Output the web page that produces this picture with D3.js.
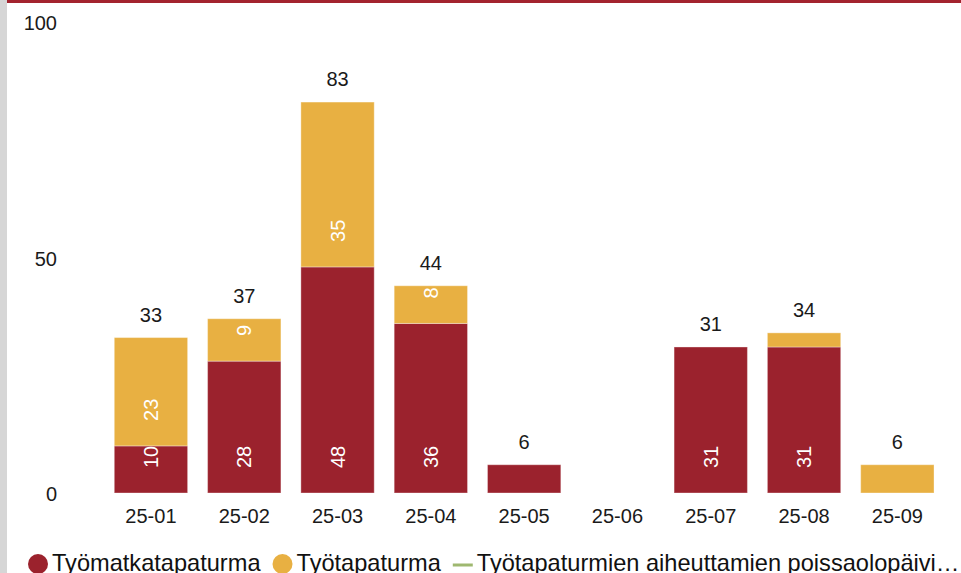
<!DOCTYPE html>
<html>
<head>
<meta charset="utf-8">
<script src="https://cdn.jsdelivr.net/npm/d3@7"></script>
<style>
  html, body { margin: 0; padding: 0; background: #fff; }
  svg { display: block; font-family: "Liberation Sans", Arial, sans-serif; }
</style>
</head>
<body>
<svg id="chart" width="961" height="573"></svg>
<script>
const categories = ["25-01", "25-02", "25-03", "25-04", "25-05", "25-06", "25-07", "25-08", "25-09"];
const tyomatka = [10, 28, 48, 36, 6, 0, 31, 31, 0];
const tyotapaturma = [23, 9, 35, 8, 0, 0, 0, 3, 6];
const seriesNames = ["Työmatkatapaturma", "Työtapaturma", "Työtapaturmien aiheuttamien poissaolopäivi…"];
const seriesColors = ["#9b222d", "#e8b042", "#9fb870"];
const yTicks = [0, 50, 100];

const svg = d3.select("#chart");
const W = 961, H = 573;

// frame decorations
svg.append("rect").attr("x", 0).attr("y", 0).attr("width", 7).attr("height", H).attr("fill", "#d6d6d6");
svg.append("rect").attr("x", 7).attr("y", 0).attr("width", W - 7).attr("height", 3).attr("fill", "#a3232e");

const x = d3.scaleBand().domain(categories).range([104.3, 944]).paddingInner(0.214).paddingOuter(0.107);
const y = d3.scaleLinear().domain([0, 100]).range([493, 22]);

const table = categories.map((c, i) => ({ cat: c, a: tyomatka[i], b: tyotapaturma[i] }));
const stack = d3.stack().keys(["a", "b"])(table);

// bars
stack.forEach((layer, li) => {
  svg.append("g").selectAll("rect").data(layer).join("rect")
    .attr("x", d => x(d.data.cat))
    .attr("width", x.bandwidth())
    .attr("y", d => y(d[1]))
    .attr("height", d => y(d[0]) - y(d[1]))
    .attr("fill", seriesColors[li])
    .attr("stroke", "rgba(255,255,255,0.35)")
    .attr("stroke-width", 1)
    .attr("display", d => d[1] - d[0] > 0 ? null : "none");
});

// inner labels (rotated)
stack.forEach((layer) => {
  svg.append("g").selectAll("text").data(layer.filter(d => d[1] - d[0] >= 7)).join("text")
    .attr("transform", d => `translate(${x(d.data.cat) + x.bandwidth() / 2},${y(d[0]) - 25}) rotate(-90)`)
    .attr("text-anchor", "start")
    .attr("dominant-baseline", "central")
    .attr("fill", "#fff")
    .attr("font-size", 20)
    .text(d => d[1] - d[0]);
});

// totals
svg.append("g").selectAll("text").data(table.filter(d => d.a + d.b > 0)).join("text")
  .attr("x", d => x(d.cat) + x.bandwidth() / 2)
  .attr("y", d => y(d.a + d.b) - 16)
  .attr("text-anchor", "middle")
  .attr("fill", "#1a1a1a")
  .attr("font-size", 20)
  .text(d => d.a + d.b);

// x axis
const xAxis = svg.append("g").attr("transform", "translate(0,493)")
  .call(d3.axisBottom(x).tickSize(0).tickPadding(0));
xAxis.select(".domain").remove();
xAxis.selectAll("text").attr("font-size", 20).attr("fill", "#1a1a1a")
  .attr("font-family", "Liberation Sans, Arial, sans-serif")
  .attr("dy", null).attr("y", 30);

// y axis
const yAxis = svg.append("g").attr("transform", "translate(57,0)")
  .call(d3.axisLeft(y).tickValues(yTicks).tickSize(0).tickPadding(0));
yAxis.select(".domain").remove();
yAxis.selectAll("text").attr("font-size", 20).attr("fill", "#1a1a1a")
  .attr("font-family", "Liberation Sans, Arial, sans-serif")
  .attr("dy", "0.38em");

// legend
const legend = svg.append("g").attr("font-size", 23.6).attr("fill", "#111");
let lx = 28;
seriesNames.forEach((name, i) => {
  if (i < 2) {
    legend.append("circle").attr("cx", lx + 10).attr("cy", 564).attr("r", 10).attr("fill", seriesColors[i]);
  } else {
    legend.append("line").attr("x1", lx).attr("x2", lx + 20).attr("y1", 565).attr("y2", 565)
      .attr("stroke", seriesColors[i]).attr("stroke-width", 3);
  }
  const t = legend.append("text").attr("x", lx + 24).attr("y", 571).text(name);
  lx = lx + 24 + t.node().getComputedTextLength() + 12;
});
</script>
</body>
</html>
